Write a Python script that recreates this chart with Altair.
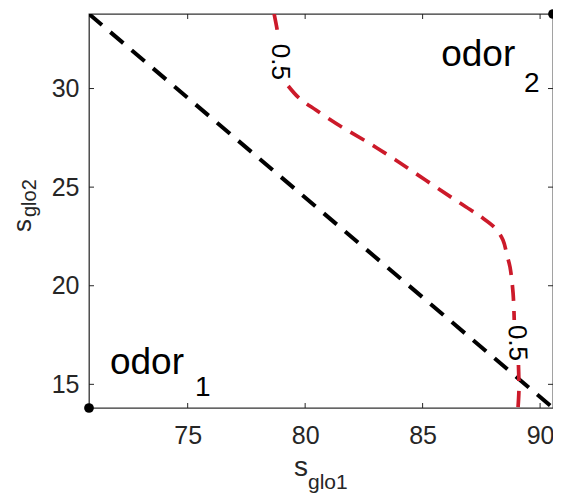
import altair as alt
import pandas as pd

# ---- data ----
odor_x = [70.8, 90.55]
odor_y = [13.8, 33.78]

diag_x = [70.8, 90.55]
diag_y = [33.78, 13.8]

contour_x = [78.68, 78.81, 78.86,
             79.28, 79.74, 80.46, 81.56, 82.71, 83.85, 85.12, 86.39, 87.49, 88.08, 88.42, 88.59, 88.72, 88.85, 88.90,
             89.08, 89.10, 89.06]
contour_y = [33.78, 32.97, 32.56,
             30.13, 29.52, 28.91, 28.05, 27.24, 26.38, 25.36, 24.35, 23.49, 22.93, 22.32, 21.56, 20.95, 19.63, 18.26,
             15.98, 14.71, 13.80]
contour_seg = [0, 0, 0,
               1, 1, 1, 1, 1, 1, 1, 1, 1, 1, 1, 1, 1, 1, 1,
               2, 2, 2]

clabel_x = [78.94, 89.02]
clabel_y = [31.35, 17.1]
clabel_text = ["0.5", "0.5"]
clabel_angle = [90, 88]

odor_word_x = [71.69, 85.79]
odor_word_y = [15.52, 31.14]
odor_sub_x = [75.31, 89.32]
odor_sub_y = [14.41, 29.82]
odor_sub_text = ["1", "2"]

x_ticks = [75, 80, 85, 90]
y_ticks = [15, 20, 25, 30]

W, H = 464, 394
FONT = "Liberation Sans"
AX = "#262626"

xs = alt.Scale(domain=[odor_x[0], odor_x[1]], nice=False, zero=False)
ys = alt.Scale(domain=[odor_y[0], odor_y[1]], nice=False, zero=False)
xaxis = alt.Axis(values=x_ticks, ticks=False, domain=False, grid=False, labelFontSize=25,
                 labelFont=FONT, labelColor=AX, labelPadding=15, title=None, format="d",
                 labelFlush=False)
yaxis = alt.Axis(values=y_ticks, ticks=False, domain=False, grid=False, labelFontSize=25,
                 labelFont=FONT, labelColor=AX, labelPadding=10, title=None, format="d")


def X(f):
    return alt.X(f, type="quantitative", scale=xs, axis=xaxis)


def Y(f):
    return alt.Y(f, type="quantitative", scale=ys, axis=yaxis)


diag = alt.Chart(pd.DataFrame({"x": diag_x, "y": diag_y})).mark_line(
    color="black", strokeDash=[17, 11], strokeWidth=4, clip=True
).encode(x=X("x"), y=Y("y"))

cdf = pd.DataFrame({"x": contour_x, "y": contour_y, "seg": contour_seg,
                    "i": list(range(len(contour_x)))})
contour = alt.Chart(cdf).mark_line(
    color="#cc1a2a", strokeDash=[16, 10], strokeWidth=3.7, clip=True, interpolate="catmull-rom"
).encode(x=X("x"), y=Y("y"), detail="seg:N", order="i:Q")

cl = alt.Chart(pd.DataFrame({"x": clabel_x, "y": clabel_y, "t": clabel_text, "a": clabel_angle})).mark_text(
    font=FONT, fontSize=26, color="black", align="center", baseline="middle"
).encode(x=X("x"), y=Y("y"), text="t:N", angle=alt.Angle("a:Q", scale=None))

xt = pd.DataFrame({"v": x_ticks})
yt = pd.DataFrame({"v": y_ticks})
tick_b = alt.Chart(xt).mark_rule(color=AX, strokeWidth=1).encode(x=X("v"), y=alt.value(H), y2=alt.value(H - 5))
tick_t = alt.Chart(xt).mark_rule(color=AX, strokeWidth=1).encode(x=X("v"), y=alt.value(0), y2=alt.value(5))
tick_l = alt.Chart(yt).mark_rule(color=AX, strokeWidth=1).encode(y=Y("v"), x=alt.value(0), x2=alt.value(5))
tick_r = alt.Chart(yt).mark_rule(color=AX, strokeWidth=1).encode(y=Y("v"), x=alt.value(W), x2=alt.value(W - 5))

pts = alt.Chart(pd.DataFrame({"x": odor_x, "y": odor_y})).mark_circle(
    size=95, color="black", opacity=1, clip=False
).encode(x=X("x"), y=Y("y"))

words = alt.Chart(pd.DataFrame({"x": odor_word_x, "y": odor_word_y, "t": ["odor", "odor"]})).mark_text(
    font=FONT, fontSize=37, color="black", align="left", baseline="alphabetic"
).encode(x=X("x"), y=Y("y"), text="t:N")
subs = alt.Chart(pd.DataFrame({"x": odor_sub_x, "y": odor_sub_y, "t": odor_sub_text})).mark_text(
    font=FONT, fontSize=28, color="black", align="left", baseline="alphabetic"
).encode(x=X("x"), y=Y("y"), text="t:N")

one = pd.DataFrame({"k": [0]})
xt_s = alt.Chart(one).mark_text(text="s", font=FONT, fontSize=28, color=AX, align="left",
                                baseline="alphabetic").encode(x=alt.value(205), y=alt.value(462))
xt_sub = alt.Chart(one).mark_text(text="glo1", font=FONT, fontSize=21, color=AX, align="left",
                                  baseline="alphabetic").encode(x=alt.value(219), y=alt.value(475))
yt_s = alt.Chart(one).mark_text(text="s", font=FONT, fontSize=26, color=AX, align="left",
                                baseline="alphabetic", angle=270).encode(x=alt.value(-58), y=alt.value(218))
yt_sub = alt.Chart(one).mark_text(text="glo2", font=FONT, fontSize=20, color=AX, align="left",
                                  baseline="alphabetic", angle=270).encode(x=alt.value(-53), y=alt.value(203))

chart = alt.layer(
    diag, contour, cl, tick_b, tick_t, tick_l, tick_r, pts, words, subs, xt_s, xt_sub, yt_s, yt_sub
).properties(
    width=W, height=H,
    autosize=alt.AutoSizeParams(type="none"),
    padding={"left": 81, "top": 6, "right": 0, "bottom": 85},
).configure_view(stroke="#333333", strokeWidth=1.3)

chart.save("out.html", embed_options={"renderer": "svg", "actions": False})
